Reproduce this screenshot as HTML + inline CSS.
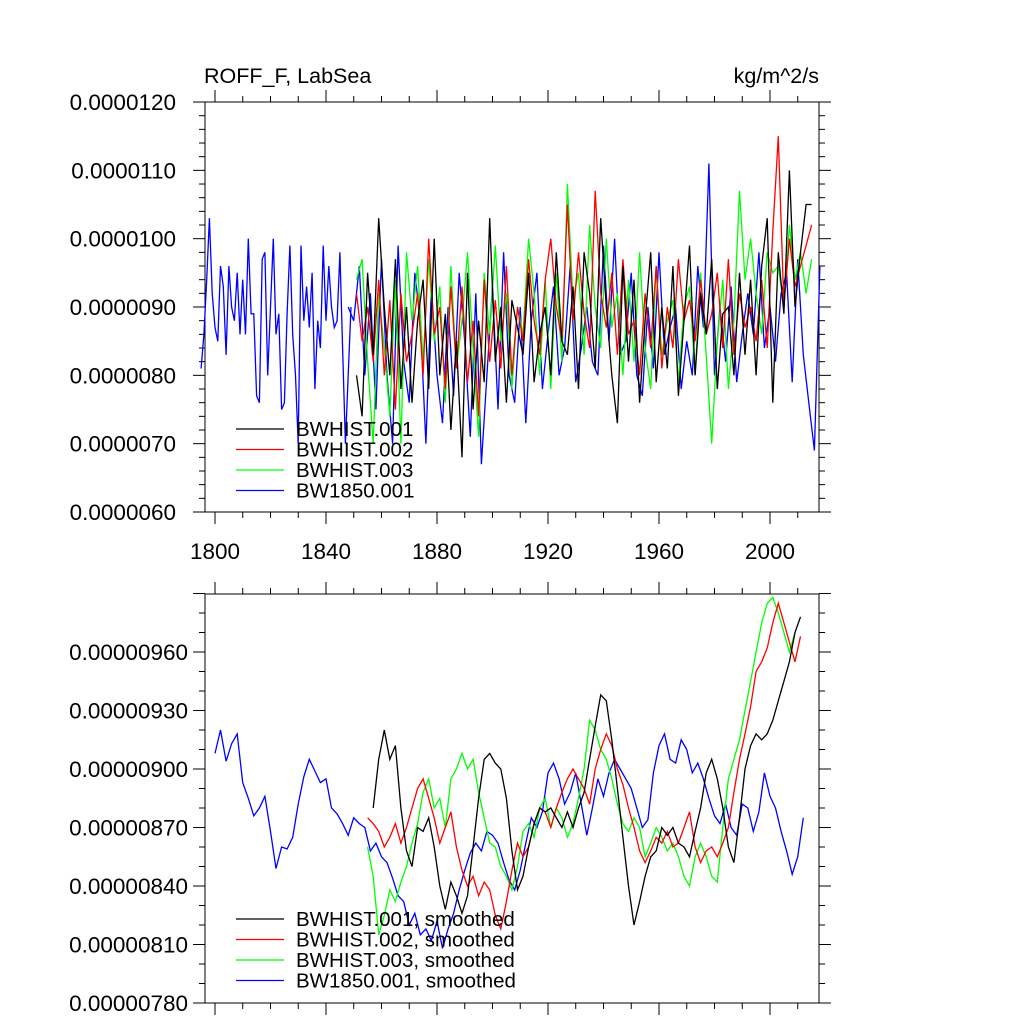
<!DOCTYPE html>
<html><head><meta charset="utf-8"><style>
body{margin:0;background:#fff}
svg text{font-family:"Liberation Sans",sans-serif;fill:#000}
</style></head><body>
<svg id="c" width="1024" height="1024" xmlns="http://www.w3.org/2000/svg"></svg>
<script>
const topBlueEarly=[8.1,8.6,9.4,10.3,9.2,8.7,8.5,9.6,9.3,8.3,9.6,9.0,8.8,9.5,8.6,9.4,8.6,10.0,8.9,8.9,7.7,7.6,9.7,9.8,8.0,9.0,10.0,8.6,8.9,7.5,7.6,8.9,9.9,8.6,8.0,7.0,9.9,8.8,9.3,8.7,9.5,7.8,8.8,8.4,9.9,8.8,9.6,9.0,8.7,8.8,9.8,8.4,7.0,8.0,9.0];
const topBlueLate=[8.8,9.6,8.0,9.2,7.5,9.7,8.0,7.0,9.9,8.2,7.6,9.5,8.8,7.0,9.3,8.0,7.3,9.0,7.7,9.5,8.5,7.1,9.2,6.7,8.0,9.3,7.5,9.8,8.0,7.6,9.0,7.3,8.8,9.5,7.8,8.6,9.3,8.0,8.4,9.6,7.9,8.4,9.0,8.2,8.0,9.9,8.5,10.0,8.3,8.5,9.5,8.0,7.7,9.0,8.1,9.8,8.3,8.7,9.0,7.8,8.5,8.0,9.6,8.7,11.1,8.0,9.0,8.2,9.3,7.9,8.6,9.2,8.6,9.8,8.4,9.0,8.2,9.2,9.5,7.9,9.7,8.3,7.6,6.9,9.6];
const topBlack=[8.0,7.4,9.5,8.3,10.3,9.0,8.0,9.7,7.8,9.0,7.6,8.8,9.4,7.8,10.0,8.0,8.9,7.2,8.5,6.8,9.5,7.5,8.8,7.9,10.3,8.2,9.0,7.6,9.1,8.7,8.3,9.5,7.9,8.6,9.0,8.0,9.8,8.5,8.3,9.3,7.8,9.8,9.2,8.1,10.3,9.0,8.0,7.3,9.6,8.2,9.4,7.6,8.8,9.8,7.9,9.0,8.1,9.6,7.7,8.8,9.9,8.0,9.2,8.6,9.7,7.8,8.9,9.0,8.0,9.5,8.3,9.4,8.0,9.6,10.3,7.6,9.8,8.9,11.0,9.0,9.8,10.5,10.5];
const topRed=[9.2,8.5,9.0,8.2,9.4,8.0,9.1,7.5,9.2,8.2,8.6,9.2,8.0,10.0,8.6,9.0,7.8,9.3,8.1,9.3,7.9,8.8,7.4,9.4,8.2,9.1,8.1,9.6,8.0,9.0,8.5,9.7,8.8,8.3,9.4,10.0,9.0,8.5,10.5,8.8,9.8,8.9,8.4,10.7,9.2,8.7,9.5,8.3,9.7,8.6,8.8,8.0,9.2,8.4,9.6,8.1,9.0,8.4,9.7,8.8,9.1,8.5,9.4,8.6,8.9,9.5,8.4,9.7,8.3,9.2,8.7,9.0,8.5,9.4,8.4,10.1,11.5,9.0,10.0,9.3,9.6,9.9,10.2];
const topGreen=[9.4,9.7,8.2,7.0,9.2,8.4,7.4,9.4,7.0,9.8,8.8,9.6,8.2,9.7,8.5,9.3,7.6,9.6,8.1,8.8,9.8,8.4,7.1,9.5,8.6,9.9,8.5,9.2,7.8,9.0,8.6,10.0,9.2,8.0,9.4,7.8,9.5,8.2,10.8,9.1,9.5,8.3,10.2,9.0,8.4,10.0,8.7,9.2,8.0,9.4,8.2,9.8,8.4,7.8,9.6,8.3,8.8,9.1,7.9,9.0,9.3,8.0,9.5,8.3,7.0,8.5,9.4,7.8,8.8,10.7,9.4,10.0,9.2,8.6,9.8,9.5,9.6,9.0,10.2,9.4,9.8,9.2,9.7];
const botBlue=[908,920,904,913,918,893,885,876,880,886,868,849,860,859,865,882,896,905,899,893,895,880,877,872,866,875,872,870,858,862,855,852,844,835,832,820,826,815,818,812,822,808,818,826,838,848,857,862,858,868,866,862,852,843,838,848,862,875,870,878,898,903,895,882,888,898,882,866,880,895,886,898,905,900,895,890,880,870,874,898,912,918,905,903,915,910,898,903,895,885,876,872,882,870,866,882,880,868,878,898,886,880,868,858,846,855,875];
const botBlack=[880,905,920,905,912,880,858,850,870,868,875,860,840,828,842,835,826,835,860,885,905,908,903,900,885,858,838,845,860,872,880,878,880,875,870,878,870,880,888,905,922,938,935,915,890,865,840,820,832,845,855,858,870,866,870,862,860,855,868,880,898,905,895,880,860,852,875,900,912,918,915,918,925,935,945,955,970,978];
const botRed=[875,872,868,860,865,872,862,870,880,890,895,885,875,862,870,878,860,848,840,845,835,842,838,825,818,832,848,862,855,860,872,880,878,870,880,888,895,900,895,890,882,900,910,918,912,900,892,880,870,858,852,858,865,862,868,860,862,870,878,860,852,858,860,855,862,870,888,905,918,932,950,955,962,975,985,975,965,955,968];
const botGreen=[860,845,815,825,838,832,842,850,862,872,888,895,880,885,870,895,900,908,900,905,888,875,862,860,850,845,838,850,868,872,865,880,885,870,880,875,865,872,885,900,925,920,910,905,895,882,872,868,875,870,855,862,870,865,858,862,855,845,840,855,862,855,845,842,870,895,905,915,930,945,960,975,985,988,980,970,960,970];
const topYTicks=["0.0000060","0.0000070","0.0000080","0.0000090","0.0000100","0.0000110","0.0000120"];
const botYTicks=["0.00000780","0.00000810","0.00000840","0.00000870","0.00000900","0.00000930","0.00000960"];
const xTicks=[1800,1840,1880,1920,1960,2000];

const svg=document.getElementById('c');const NS='http://www.w3.org/2000/svg';
function mk(t,a,p){const e=document.createElementNS(NS,t);for(const k in a)e.setAttribute(k,a[k]);(p||svg).appendChild(e);return e;}
const X0=205,X1=819;
const xs=y=>X0+(y-1796.4)*2.775;
const ysTop=v=>512-(v-6)*68.33;
const ysBot=v=>1003-(v-780)*1.95;
function panel(yT,yB,name,ys,ymin,ymax,minStep,majStep,labels,lx){
  const g=mk('g',{});
  
  
  const fr=mk('rect',{x:X0,y:yT,width:X1-X0,height:yB-yT,fill:'none',stroke:'#000','stroke-width':1},g);
  
  
  for(let yr=1800;yr<=2010;yr+=10){const x=xs(yr);const L=yr%40==0?12:6;
    mk('line',{x1:x,x2:x,y1:yB,y2:yB+L,stroke:'#000'},g);mk('line',{x1:x,x2:x,y1:yT,y2:yT-L,stroke:'#000'},g);}
  for(let v=ymin;v<=ymax+1e-9;v+=minStep){const y=ys(v);if(y<yT-0.5)continue;const maj=Math.abs((v-ymin)/majStep-Math.round((v-ymin)/majStep))<1e-6;const L=maj?12:6;
    mk('line',{x1:X0,x2:X0-L,y1:y,y2:y,stroke:'#000'},g);mk('line',{x1:X1,x2:X1+L,y1:y,y2:y,stroke:'#000'},g);}
  labels.forEach((s,i)=>{const t=mk('text',{x:lx,y:ys(ymin+i*majStep)+8,'text-anchor':'end','font-size':22.5},g);t.textContent=s;
    
    });
  return g;
}
panel(102,512,'top-panel',ysTop,6,12,0.2,1,topYTicks,176);
panel(594,1003,'bottom-panel',ysBot,780,990,10,30,botYTicks,188);
xTicks.forEach(yr=>{const t=mk('text',{x:xs(yr),y:559,'text-anchor':'middle','font-size':22.5});t.textContent=yr;
  
  });
function series(vals,start,step,ys,color,name){
  const pts=vals.map((v,i)=>xs(start+i*step).toFixed(1)+','+ys(v).toFixed(1)).join(' ');
  const p=mk('polyline',{points:pts,fill:'none',stroke:color,'stroke-width':1.3});
  
  
}
series(topBlueEarly,1795,1,ysTop,'#0000ff','bw1850-line-early');
series([topBlueEarly[topBlueEarly.length-1]].concat(topBlueLate),1848,2,ysTop,'#0000ff','bw1850-line');
series(topGreen,1851,2,ysTop,'#00ff00','bwhist003-line');
series(topRed,1851,2,ysTop,'#ff0000','bwhist002-line');
series(topBlack,1851,2,ysTop,'#000000','bwhist001-line');
series(botBlue,1800,2,ysBot,'#0000ff','bw1850-smoothed-line');
series(botGreen,1855,2,ysBot,'#00ff00','bwhist003-smoothed-line');
series(botRed,1855,2,ysBot,'#ff0000','bwhist002-smoothed-line');
series(botBlack,1857,2,ysBot,'#000000','bwhist001-smoothed-line');
function legend(y0,names,name){const cols=['#000000','#ff0000','#00ff00','#0000ff'];
  names.forEach((n,i)=>{const y=y0+i*20.5;
    const l=mk('line',{x1:236,x2:284,y1:y,y2:y,stroke:cols[i],'stroke-width':1.3});
    
    
    const t=mk('text',{x:296,y:y+7,'font-size':20.5});t.textContent=n;
    
    });}
legend(429,['BWHIST.001','BWHIST.002','BWHIST.003','BW1850.001'],'top-legend-entry');
legend(919,['BWHIST.001, smoothed','BWHIST.002, smoothed','BWHIST.003, smoothed','BW1850.001, smoothed'],'bottom-legend-entry');
let t=mk('text',{x:204,y:83,'font-size':21.5});t.textContent='ROFF_F, LabSea';


t=mk('text',{x:819,y:83,'font-size':21.5,'text-anchor':'end'});t.textContent='kg/m^2/s';


</script>
</body></html>
